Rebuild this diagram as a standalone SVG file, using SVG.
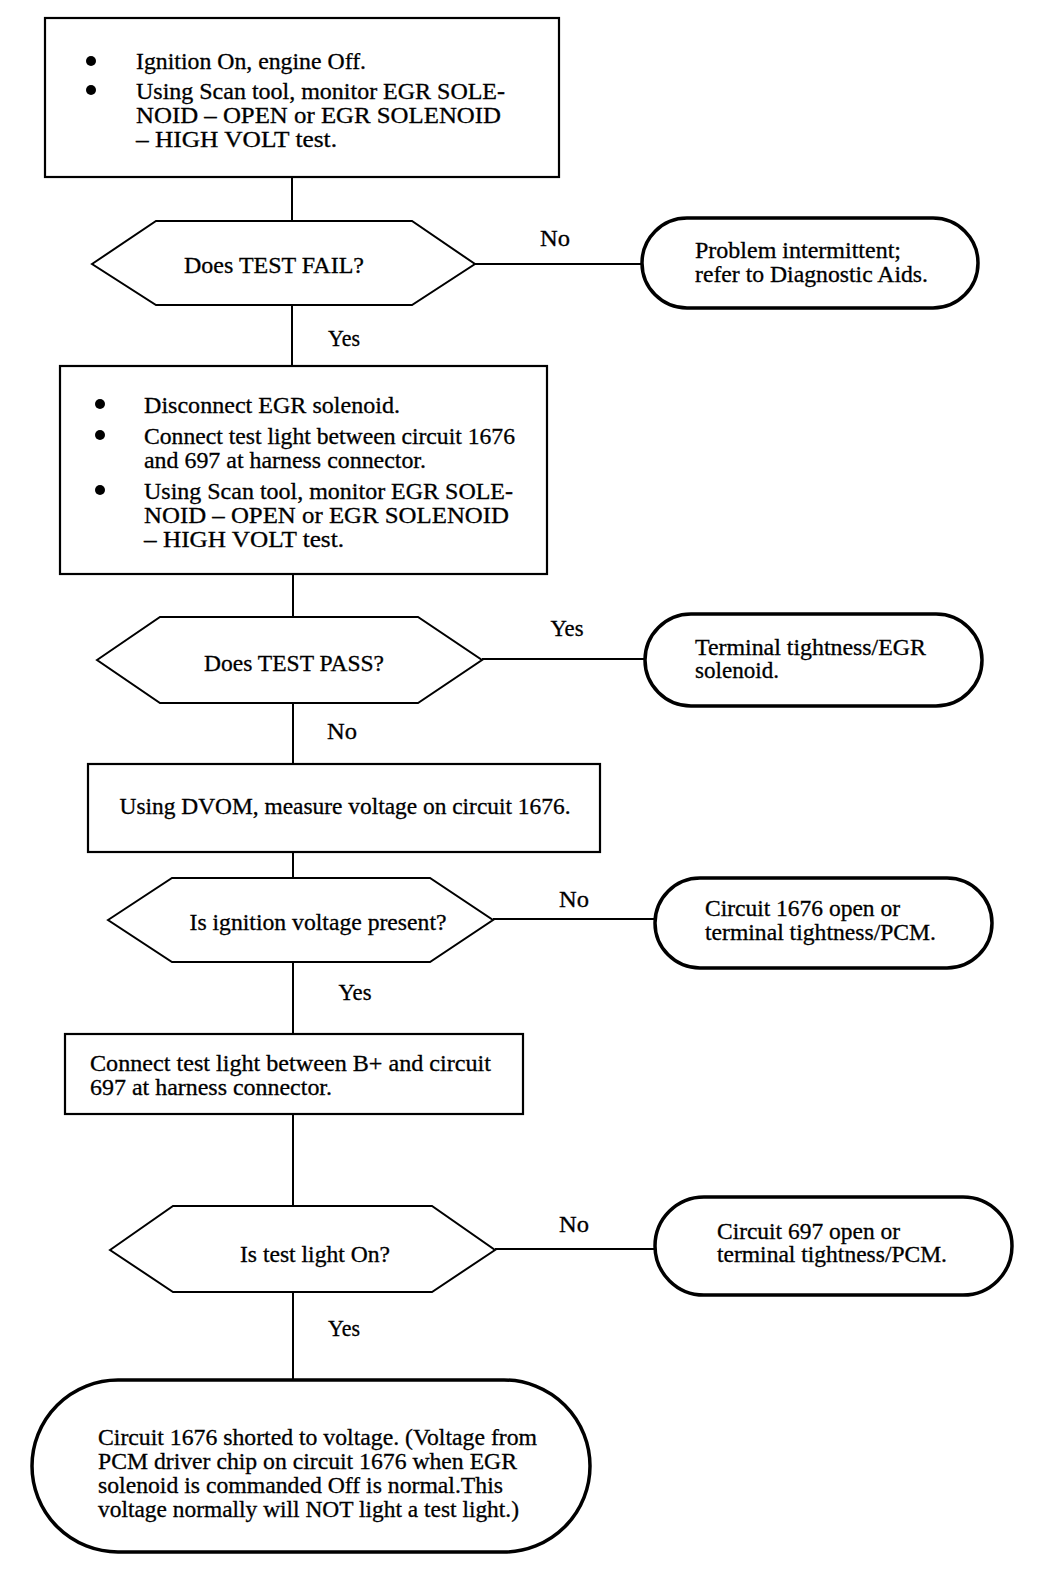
<svg xmlns="http://www.w3.org/2000/svg" width="1056" height="1574" viewBox="0 0 1056 1574">
<style>
.box{fill:#fff;stroke:#000;stroke-width:2.2}
.dec{fill:#fff;stroke:#000;stroke-width:2}
.term{fill:#fff;stroke:#000;stroke-width:3.5}
.ln{stroke:#000;stroke-width:2;fill:none}
text{font-family:"Liberation Serif","Times New Roman",serif;font-size:23px;fill:#000;stroke:#000;stroke-width:0.3}
.c{text-anchor:middle}
.b{fill:#000}
</style>
<rect width="1056" height="1574" fill="#fff"/>
<g id="connectors">
<line class="ln" x1="292" y1="177" x2="292" y2="221"/>
<line class="ln" x1="475" y1="264" x2="642" y2="264"/>
<line class="ln" x1="292" y1="305" x2="292" y2="366"/>
<line class="ln" x1="293" y1="574" x2="293" y2="617"/>
<line class="ln" x1="482" y1="659" x2="645" y2="659"/>
<line class="ln" x1="293" y1="703" x2="293" y2="764"/>
<line class="ln" x1="293" y1="852" x2="293" y2="878"/>
<line class="ln" x1="493" y1="919" x2="655" y2="919"/>
<line class="ln" x1="293" y1="962" x2="293" y2="1034"/>
<line class="ln" x1="293" y1="1114" x2="293" y2="1206"/>
<line class="ln" x1="495" y1="1249" x2="655" y2="1249"/>
<line class="ln" x1="293" y1="1292" x2="293" y2="1380"/>
<text x="555" y="246" class="c" textLength="30" lengthAdjust="spacingAndGlyphs">No</text>
<text x="344" y="346" class="c" textLength="32" lengthAdjust="spacingAndGlyphs">Yes</text>
<text x="567" y="636" class="c" textLength="33" lengthAdjust="spacingAndGlyphs">Yes</text>
<text x="342" y="739" class="c" textLength="30" lengthAdjust="spacingAndGlyphs">No</text>
<text x="574" y="907" class="c" textLength="30" lengthAdjust="spacingAndGlyphs">No</text>
<text x="355" y="1000" class="c" textLength="33" lengthAdjust="spacingAndGlyphs">Yes</text>
<text x="574" y="1232" class="c" textLength="30" lengthAdjust="spacingAndGlyphs">No</text>
<text x="344" y="1336" class="c" textLength="32" lengthAdjust="spacingAndGlyphs">Yes</text>
</g>
<g id="step1">
<rect class="box" x="45" y="18" width="514" height="159"/>
<circle class="b" cx="91" cy="61" r="5"/>
<circle class="b" cx="91" cy="90" r="5"/>
<text x="136" y="69" textLength="230" lengthAdjust="spacingAndGlyphs">Ignition On, engine Off.</text>
<text x="136" y="99" textLength="369" lengthAdjust="spacingAndGlyphs">Using Scan tool, monitor EGR SOLE-</text>
<text x="136" y="123" textLength="365" lengthAdjust="spacingAndGlyphs">NOID – OPEN or EGR SOLENOID</text>
<text x="136" y="147" textLength="201" lengthAdjust="spacingAndGlyphs">– HIGH VOLT test.</text>
</g>
<g id="dec1">
<polygon class="dec" points="92,264 156,221 412,221 475,264 412,305 156,305"/>
<text x="274" y="273" class="c" textLength="180" lengthAdjust="spacingAndGlyphs">Does TEST FAIL?</text>
</g>
<g id="term1">
<rect class="term" x="642" y="218" width="336" height="90" rx="45" ry="45"/>
<text x="695" y="258" textLength="206" lengthAdjust="spacingAndGlyphs">Problem intermittent;</text>
<text x="695" y="282" textLength="233" lengthAdjust="spacingAndGlyphs">refer to Diagnostic Aids.</text>
</g>
<g id="step2">
<rect class="box" x="60" y="366" width="487" height="208"/>
<circle class="b" cx="100" cy="404" r="5"/>
<circle class="b" cx="100" cy="435" r="5"/>
<circle class="b" cx="100" cy="490" r="5"/>
<text x="144" y="413" textLength="256" lengthAdjust="spacingAndGlyphs">Disconnect EGR solenoid.</text>
<text x="144" y="444" textLength="371" lengthAdjust="spacingAndGlyphs">Connect test light between circuit 1676</text>
<text x="144" y="468" textLength="282" lengthAdjust="spacingAndGlyphs">and 697 at harness connector.</text>
<text x="144" y="499" textLength="369" lengthAdjust="spacingAndGlyphs">Using Scan tool, monitor EGR SOLE-</text>
<text x="144" y="523" textLength="365" lengthAdjust="spacingAndGlyphs">NOID – OPEN or EGR SOLENOID</text>
<text x="144" y="547" textLength="200" lengthAdjust="spacingAndGlyphs">– HIGH VOLT test.</text>
</g>
<g id="dec2">
<polygon class="dec" points="97,660 160,617 418,617 482,660 418,703 160,703"/>
<text x="294" y="671" class="c" textLength="180" lengthAdjust="spacingAndGlyphs">Does TEST PASS?</text>
</g>
<g id="term2">
<rect class="term" x="645" y="614" width="337" height="92" rx="46" ry="46"/>
<text x="695" y="655" textLength="231" lengthAdjust="spacingAndGlyphs">Terminal tightness/EGR</text>
<text x="695" y="678" textLength="84" lengthAdjust="spacingAndGlyphs">solenoid.</text>
</g>
<g id="step3">
<rect class="box" x="88" y="764" width="512" height="88"/>
<text x="345" y="814" class="c" textLength="451" lengthAdjust="spacingAndGlyphs">Using DVOM, measure voltage on circuit 1676.</text>
</g>
<g id="dec3">
<polygon class="dec" points="108,920 172,878 430,878 493,920 430,962 172,962"/>
<text x="318" y="930" class="c" textLength="257" lengthAdjust="spacingAndGlyphs">Is ignition voltage present?</text>
</g>
<g id="term3">
<rect class="term" x="655" y="878" width="337" height="90" rx="45" ry="45"/>
<text x="705" y="916" textLength="195" lengthAdjust="spacingAndGlyphs">Circuit 1676 open or</text>
<text x="705" y="940" textLength="231" lengthAdjust="spacingAndGlyphs">terminal tightness/PCM.</text>
</g>
<g id="step4">
<rect class="box" x="65" y="1034" width="458" height="80"/>
<text x="90" y="1071" textLength="401" lengthAdjust="spacingAndGlyphs">Connect test light between B+ and circuit</text>
<text x="90" y="1095" textLength="242" lengthAdjust="spacingAndGlyphs">697 at harness connector.</text>
</g>
<g id="dec4">
<polygon class="dec" points="110,1250 173,1206 432,1206 495,1250 432,1292 173,1292"/>
<text x="315" y="1262" class="c" textLength="150" lengthAdjust="spacingAndGlyphs">Is test light On?</text>
</g>
<g id="term4">
<rect class="term" x="655" y="1197" width="357" height="98" rx="49" ry="49"/>
<text x="717" y="1239" textLength="183" lengthAdjust="spacingAndGlyphs">Circuit 697 open or</text>
<text x="717" y="1262" textLength="230" lengthAdjust="spacingAndGlyphs">terminal tightness/PCM.</text>
</g>
<g id="term5">
<rect class="term" x="32" y="1380" width="558" height="172" rx="86" ry="86"/>
<text x="98" y="1445" textLength="439" lengthAdjust="spacingAndGlyphs">Circuit 1676 shorted to voltage. (Voltage from</text>
<text x="98" y="1469" textLength="419" lengthAdjust="spacingAndGlyphs">PCM driver chip on circuit 1676 when EGR</text>
<text x="98" y="1493" textLength="405" lengthAdjust="spacingAndGlyphs">solenoid is commanded Off is normal.This</text>
<text x="98" y="1517" textLength="421" lengthAdjust="spacingAndGlyphs">voltage normally will NOT light a test light.)</text>
</g>
</svg>
